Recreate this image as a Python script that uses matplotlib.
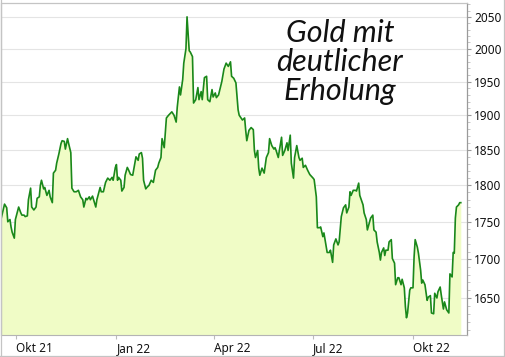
import pandas as pd
import matplotlib
matplotlib.use("Agg")
import matplotlib.pyplot as plt
from matplotlib.ticker import FixedLocator, NullFormatter
from matplotlib.lines import Line2D

# gold price, USD per ounce
dates = [
    "2021-09-17", "2021-09-20", "2021-09-22", "2021-09-23", "2021-09-25", "2021-09-26",
    "2021-09-27", "2021-09-29", "2021-09-30", "2021-10-02", "2021-10-03", "2021-10-05",
    "2021-10-06", "2021-10-08", "2021-10-09", "2021-10-11", "2021-10-12", "2021-10-14",
    "2021-10-15", "2021-10-17", "2021-10-19", "2021-10-20", "2021-10-22", "2021-10-23",
    "2021-10-24", "2021-10-26", "2021-10-27", "2021-10-29", "2021-10-31", "2021-11-01",
    "2021-11-03", "2021-11-04", "2021-11-06", "2021-11-07", "2021-11-09", "2021-11-11",
    "2021-11-12", "2021-11-14", "2021-11-15", "2021-11-17", "2021-11-18", "2021-11-20",
    "2021-11-21", "2021-11-23", "2021-11-25", "2021-11-27", "2021-11-29", "2021-12-01",
    "2021-12-02", "2021-12-04", "2021-12-05", "2021-12-07", "2021-12-08", "2021-12-10",
    "2021-12-11", "2021-12-13", "2021-12-14", "2021-12-17", "2021-12-18", "2021-12-20",
    "2021-12-22", "2021-12-24", "2021-12-26", "2021-12-28", "2021-12-29", "2021-12-31",
    "2022-01-01", "2022-01-02", "2022-01-03", "2022-01-05", "2022-01-06", "2022-01-08",
    "2022-01-09", "2022-01-11", "2022-01-12", "2022-01-14", "2022-01-16", "2022-01-18",
    "2022-01-19", "2022-01-21", "2022-01-22", "2022-01-24", "2022-01-25", "2022-01-26",
    "2022-01-28", "2022-01-29", "2022-01-31", "2022-02-02", "2022-02-04", "2022-02-06",
    "2022-02-08", "2022-02-09", "2022-02-11", "2022-02-12", "2022-02-14", "2022-02-16",
    "2022-02-18", "2022-02-21", "2022-02-23", "2022-02-25", "2022-02-26", "2022-02-28",
    "2022-03-01", "2022-03-03", "2022-03-04", "2022-03-06", "2022-03-07", "2022-03-09",
    "2022-03-10", "2022-03-12", "2022-03-13", "2022-03-15", "2022-03-17", "2022-03-18",
    "2022-03-20", "2022-03-21", "2022-03-23", "2022-03-25", "2022-03-26", "2022-03-28",
    "2022-03-30", "2022-03-31", "2022-04-02", "2022-04-03", "2022-04-05", "2022-04-08",
    "2022-04-10", "2022-04-12", "2022-04-14", "2022-04-16", "2022-04-17", "2022-04-19",
    "2022-04-21", "2022-04-23", "2022-04-24", "2022-04-27", "2022-04-29", "2022-04-30",
    "2022-05-01", "2022-05-03", "2022-05-05", "2022-05-07", "2022-05-08", "2022-05-09",
    "2022-05-11", "2022-05-12", "2022-05-13", "2022-05-15", "2022-05-17", "2022-05-19",
    "2022-05-21", "2022-05-22", "2022-05-24", "2022-05-26", "2022-05-27", "2022-05-28",
    "2022-05-30", "2022-05-31", "2022-06-02", "2022-06-03", "2022-06-05", "2022-06-07",
    "2022-06-08", "2022-06-10", "2022-06-11", "2022-06-13", "2022-06-14", "2022-06-16",
    "2022-06-18", "2022-06-19", "2022-06-21", "2022-06-22", "2022-06-24", "2022-06-26",
    "2022-06-28", "2022-07-01", "2022-07-02", "2022-07-04", "2022-07-05", "2022-07-07",
    "2022-07-08", "2022-07-10", "2022-07-11", "2022-07-12", "2022-07-14", "2022-07-16",
    "2022-07-17", "2022-07-19", "2022-07-20", "2022-07-22", "2022-07-24", "2022-07-25",
    "2022-07-27", "2022-07-29", "2022-07-31", "2022-08-01", "2022-08-03", "2022-08-04",
    "2022-08-05", "2022-08-07", "2022-08-09", "2022-08-10", "2022-08-12", "2022-08-13",
    "2022-08-16", "2022-08-17", "2022-08-19", "2022-08-20", "2022-08-22", "2022-08-23",
    "2022-08-25", "2022-08-26", "2022-08-28", "2022-08-29", "2022-08-31", "2022-09-01",
    "2022-09-02", "2022-09-04", "2022-09-05", "2022-09-06", "2022-09-08", "2022-09-09",
    "2022-09-11", "2022-09-12", "2022-09-14", "2022-09-15", "2022-09-17", "2022-09-18",
    "2022-09-20", "2022-09-21", "2022-09-23", "2022-09-24", "2022-09-25", "2022-09-26",
    "2022-09-28", "2022-09-29", "2022-10-01", "2022-10-02", "2022-10-03", "2022-10-05",
    "2022-10-06", "2022-10-08", "2022-10-09", "2022-10-10", "2022-10-12", "2022-10-14",
    "2022-10-15", "2022-10-17", "2022-10-18", "2022-10-20", "2022-10-21", "2022-10-23",
    "2022-10-24", "2022-10-26", "2022-10-27", "2022-10-29", "2022-10-30", "2022-11-01",
    "2022-11-03", "2022-11-04", "2022-11-06", "2022-11-07", "2022-11-08", "2022-11-09",
    "2022-11-10", "2022-11-12", "2022-11-13", "2022-11-14",
]

prices = [
    1755, 1774, 1769, 1750, 1753, 1743, 1736, 1728, 1753, 1764, 1770, 1762,
    1759, 1759, 1757, 1758, 1780, 1796, 1770, 1766, 1770, 1782, 1784, 1800,
    1807, 1795, 1797, 1786, 1793, 1784, 1776, 1817, 1821, 1831, 1844, 1859,
    1863, 1862, 1851, 1866, 1859, 1846, 1796, 1791, 1791, 1793, 1784, 1780,
    1770, 1782, 1780, 1784, 1780, 1785, 1780, 1770, 1780, 1797, 1791, 1791,
    1804, 1810, 1807, 1811, 1807, 1825, 1829, 1807, 1811, 1807, 1792, 1797,
    1814, 1825, 1822, 1815, 1814, 1831, 1840, 1835, 1844, 1846, 1838, 1807,
    1795, 1797, 1800, 1807, 1804, 1821, 1825, 1831, 1839, 1866, 1853, 1896,
    1900, 1905, 1900, 1890, 1912, 1942, 1930, 1953, 1978, 2000, 2050, 1997,
    1995, 1988, 1918, 1923, 1941, 1923, 1935, 1923, 1956, 1958, 1923, 1920,
    1938, 1927, 1933, 1926, 1930, 1950, 1969, 1978, 1973, 1980, 1958, 1955,
    1948, 1908, 1900, 1893, 1896, 1878, 1863, 1878, 1882, 1879, 1849, 1839,
    1849, 1824, 1814, 1824, 1817, 1839, 1846, 1866, 1856, 1851, 1853, 1849,
    1839, 1849, 1868, 1842, 1849, 1860, 1849, 1871, 1831, 1810, 1839, 1856,
    1839, 1835, 1838, 1825, 1828, 1821, 1815, 1810, 1808, 1784, 1742, 1742,
    1743, 1730, 1735, 1726, 1709, 1709, 1712, 1696, 1719, 1727, 1719, 1723,
    1757, 1769, 1773, 1762, 1770, 1791, 1786, 1793, 1793, 1792, 1803, 1786,
    1773, 1762, 1753, 1739, 1750, 1755, 1759, 1739, 1736, 1723, 1709, 1699,
    1709, 1715, 1705, 1712, 1712, 1723, 1726, 1701, 1695, 1667, 1676, 1676,
    1667, 1674, 1663, 1639, 1625, 1631, 1660, 1663, 1663, 1703, 1726, 1716,
    1708, 1686, 1669, 1673, 1667, 1647, 1651, 1653, 1631, 1630, 1656, 1650,
    1658, 1664, 1654, 1636, 1645, 1635, 1631, 1681, 1677, 1709, 1708, 1755,
    1770, 1773, 1776, 1776,
]

tick_dates = ["2021-10-01", "2022-01-01", "2022-04-01", "2022-07-01", "2022-10-01"]
tick_labels = ["Okt 21", "Jan 22", "Apr 22", "Jul 22", "Okt 22"]
y_ticks = [1650, 1700, 1750, 1800, 1850, 1900, 1950, 2000, 2050]
title_lines = "Gold mit\ndeutlicher\nErholung"


def main():
    x = pd.to_datetime(dates)

    fig = plt.figure(figsize=(5.06, 3.57), dpi=100)
    ax = fig.add_axes([1.5 / 506, 1 - 335 / 357, 465.5 / 506, 332 / 357])

    ax.set_yscale("log")
    ymin, ymax = 1603.5, 2072
    ax.set_ylim(ymin, ymax)
    ax.set_xlim(pd.Timestamp("2021-09-17 05:00"), pd.Timestamp("2022-11-19 17:00"))

    ax.fill_between(x, prices, ymin, color="#f0fcc6", linewidth=0, zorder=2)
    ax.plot(x, prices, color="#1a881a", linewidth=1.2, zorder=3)

    # y axis on the right, fixed ticks
    ax.yaxis.tick_right()
    ax.yaxis.set_major_locator(FixedLocator(y_ticks))
    ax.yaxis.set_minor_locator(FixedLocator(range(1610, 2071, 10)))
    ax.yaxis.set_minor_formatter(NullFormatter())
    ax.set_yticklabels([str(v) for v in y_ticks])
    ax.tick_params(axis="y", which="major", length=3, width=0.8, color="#999999",
                   labelsize=8.5, labelcolor="#111111", pad=2)
    ax.tick_params(axis="y", which="minor", length=2, width=0.6, color="#bbbbbb")
    ax.grid(axis="y", which="major", color="#e4e4e4", linewidth=0.8, zorder=0)
    ax.set_axisbelow(True)

    ax.set_xticks(pd.to_datetime(tick_dates))
    ax.set_xticklabels(tick_labels, ha="left")
    ax.tick_params(axis="x", length=3, width=0.8, color="#bbbbbb",
                   labelsize=8.5, labelcolor="#111111", pad=2)

    for side in ["left", "top"]:
        ax.spines[side].set_color("#c4c4c4")
        ax.spines[side].set_linewidth(0.9)
    ax.spines["bottom"].set_color("#b4b4b4")
    ax.spines["right"].set_color("#9a9a9a")
    ax.spines["right"].set_linewidth(0.9)

    for lab in ax.get_xticklabels() + ax.get_yticklabels():
        lab.set_fontfamily("Noto Sans")

    ax.text(0.727, 0.822, title_lines, transform=ax.transAxes, ha="center", va="center",
            fontsize=22, fontfamily="Lato", fontstyle="italic", fontweight="normal",
            color="#111111", linespacing=1.05, zorder=5)

    # thin outer frame
    fig.add_artist(Line2D([1.5 / 506, 1.5 / 506], [0, 1], color="#c4c4c4", lw=0.9))
    fig.add_artist(Line2D([0, 1], [1.5 / 357, 1.5 / 357], color="#c4c4c4", lw=0.9))
    fig.add_artist(Line2D([504.5 / 506, 504.5 / 506], [0, 1], color="#c4c4c4", lw=0.9))

    fig.savefig("out.png", dpi=100)


if __name__ == "__main__":
    main()
